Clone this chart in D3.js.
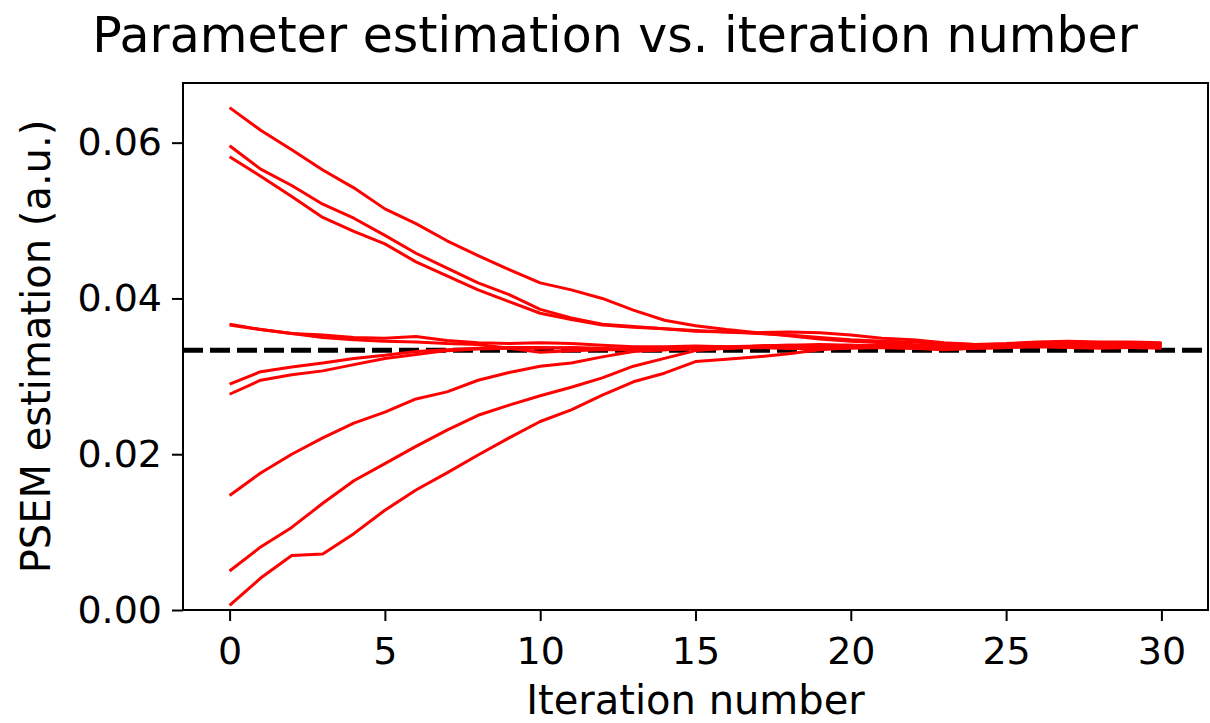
<!DOCTYPE html>
<meta charset="utf-8">
<style>
body { margin: 0; background: #fff; }
svg { font-family: "DejaVu Sans", sans-serif; }
.axis path, .axis line { stroke: #000; stroke-width: 2; }
.axis text { font-family: "DejaVu Sans", sans-serif; font-size: 38px; fill: #000; }
.title { font-size: 49px; }
.label { font-size: 40px; }
.est { fill: none; stroke: red; stroke-width: 3; stroke-linejoin: round; }
.truth { stroke: #000; stroke-width: 5; stroke-dasharray: 20, 7; }
</style>
<body>
<script src="https://cdn.jsdelivr.net/npm/d3@7"></script>
<script>
var w = 1210,
    h = 723,
    margin = {top: 83, right: 2, bottom: 113, left: 183};

// iteration index 0..30
var iterations = [0,1,2,3,4,5,6,7,8,9,10,11,12,13,14,15,16,17,18,19,20,21,22,23,24,25,26,27,28,29,30];

// estimates per run
var run1 = [.0645,.0616,.0591,.0565,.0542,.0515,.0496,.0474,.0455,.0437,.0420,.0411,.0400,.0385,.0372,.0365,.0360,.0356,.0352,.0348,.0345,.0343,.0341,.0340,.0340,.0341,.0343,.0342,.0341,.0340,.0339];
var run2 = [.0596,.0566,.0545,.0521,.0503,.0481,.0458,.0439,.0420,.0405,.0386,.0375,.0367,.0364,.0361,.0359,.0357,.0356,.0357,.0356,.0353,.0349,.0347,.0343,.0341,.0342,.0344,.0345,.0344,.0344,.0343];
var run3 = [.0582,.0557,.0531,.0504,.0486,.0470,.0447,.0429,.0411,.0396,.0381,.0373,.0366,.0363,.0361,.0358,.0357,.0355,.0353,.0350,.0347,.0345,.0344,.0342,.0341,.0341,.0343,.0344,.0343,.0342,.0342];
var run4 = [.0367,.0360,.0355,.0353,.0350,.0349,.0351,.0346,.0343,.0342,.0343,.0342,.0340,.0338,.0338,.0339,.0338,.0339,.0340,.0339,.0340,.0339,.0338,.0337,.0338,.0339,.0340,.0341,.0340,.0339,.0340];
var run5 = [.0366,.0360,.0355,.0350,.0347,.0345,.0344,.0342,.0341,.0336,.0331,.0333,.0334,.0334,.0335,.0337,.0338,.0337,.0336,.0337,.0338,.0337,.0336,.0335,.0336,.0337,.0338,.0337,.0336,.0337,.0338];
var run6 = [.0290,.0306,.0312,.0317,.0323,.0327,.0332,.0334,.0336,.0337,.0337,.0336,.0335,.0335,.0336,.0338,.0337,.0338,.0339,.0338,.0337,.0338,.0339,.0340,.0339,.0340,.0342,.0341,.0342,.0341,.0341];
var run7 = [.0277,.0295,.0302,.0307,.0315,.0323,.0328,.0333,.0335,.0336,.0336,.0337,.0336,.0334,.0334,.0335,.0336,.0337,.0336,.0335,.0336,.0337,.0336,.0334,.0336,.0337,.0339,.0338,.0337,.0337,.0336];
var run8 = [.0147,.0176,.0200,.0221,.0240,.0254,.0271,.0280,.0295,.0305,.0313,.0317,.0325,.0332,.0334,.0337,.0336,.0338,.0339,.0338,.0339,.0340,.0339,.0338,.0337,.0339,.0341,.0342,.0341,.0340,.0341];
var run9 = [.0050,.0081,.0106,.0137,.0166,.0188,.0210,.0231,.0250,.0263,.0275,.0286,.0298,.0313,.0323,.0333,.0336,.0339,.0340,.0341,.0340,.0339,.0338,.0337,.0338,.0340,.0343,.0344,.0343,.0342,.0342];
var run10 = [.0006,.0041,.0070,.0072,.0098,.0128,.0154,.0176,.0199,.0221,.0242,.0257,.0276,.0293,.0304,.0319,.0322,.0325,.0329,.0334,.0337,.0338,.0337,.0336,.0337,.0338,.0340,.0341,.0340,.0339,.0339];

var trueValue = 1 / 30;

var xTicks = [0, 5, 10, 15, 20, 25, 30];
var yTicks = [0, 0.02, 0.04, 0.06];

var runs = [run1, run2, run3, run4, run5, run6, run7, run8, run9, run10];

var x = d3.scaleLinear().domain([-1.5, 31.5]).range([margin.left, w - margin.right]);
var y = d3.scaleLinear().domain([0, 0.06766]).range([h - margin.bottom, margin.top]);

var svg = d3.select("body").append("svg")
    .attr("width", w)
    .attr("height", h);

/* reference line */
svg.append("line")
    .attr("class", "truth")
    .attr("x1", x.range()[0])
    .attr("x2", x.range()[1])
    .attr("y1", y(trueValue))
    .attr("y2", y(trueValue));

/* one line per run */
var line = d3.line()
    .x(function(d, i) { return x(iterations[i]); })
    .y(function(d) { return y(d); });

svg.selectAll("path.est")
    .data(runs)
  .enter().append("path")
    .attr("class", "est")
    .attr("d", line);

/* frame */
svg.append("rect")
    .attr("x", margin.left)
    .attr("y", margin.top)
    .attr("width", w - margin.left - margin.right)
    .attr("height", h - margin.top - margin.bottom)
    .attr("fill", "none")
    .attr("stroke", "#000")
    .attr("stroke-width", 2);

svg.append("g")
    .attr("class", "axis")
    .attr("transform", "translate(0," + (h - margin.bottom) + ")")
    .call(d3.axisBottom(x).tickValues(xTicks).tickSize(11).tickPadding(16).tickSizeOuter(0))
    .call(function(g) { g.select(".domain").remove(); });

svg.append("g")
    .attr("class", "axis")
    .attr("transform", "translate(" + margin.left + ",0)")
    .call(d3.axisLeft(y).tickValues(yTicks).tickFormat(d3.format(".2f")).tickSize(11).tickPadding(10).tickSizeOuter(0))
    .call(function(g) { g.select(".domain").remove(); });

svg.append("text")
    .attr("class", "title")
    .attr("x", 615)
    .attr("y", 52)
    .attr("text-anchor", "middle")
    .text("Parameter estimation vs. iteration number");

svg.append("text")
    .attr("class", "label")
    .attr("x", (margin.left + w - margin.right) / 2)
    .attr("y", 714)
    .attr("text-anchor", "middle")
    .text("Iteration number");

svg.append("text")
    .attr("class", "label")
    .attr("transform", "translate(50," + ((margin.top + h - margin.bottom) / 2) + ") rotate(-90)")
    .attr("text-anchor", "middle")
    .text("PSEM estimation (a.u.)");
</script>
</body>
